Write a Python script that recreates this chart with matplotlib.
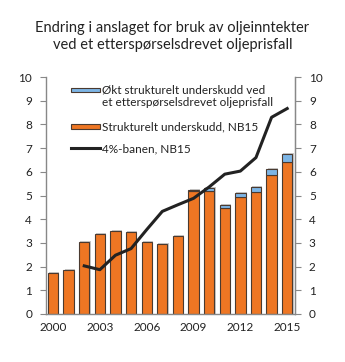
import matplotlib.pyplot as plt
from matplotlib.patches import Rectangle
from matplotlib.lines import Line2D

years = list(range(2000, 2016))
strukturelt = [1.72, 1.84, 3.03, 3.38, 3.49, 3.46, 3.03, 2.95, 3.31,
               5.17, 5.20, 4.47, 4.95, 5.15, 5.85, 6.43]
okt = [0, 0, 0, 0, 0, 0, 0, 0, 0,
       0.05, 0.10, 0.13, 0.17, 0.21, 0.28, 0.32]
bane_years = list(range(2002, 2016))
bane = [2.03, 1.87, 2.48, 2.76, 3.56, 4.33, 4.61, 4.88, 5.36,
        5.9, 6.03, 6.6, 8.3, 8.67]
labels = ['Økt strukturelt underskudd ved\net etterspørselsdrevet oljeprisfall',
          'Strukturelt underskudd, NB15',
          '4%-banen, NB15']

plt.rcParams['font.family'] = ['Lato', 'DejaVu Sans']

orange = '#EE7623'
blue = '#7DB5E5'
edge = '#4a3a30'
dark = '#222222'

W, H = 345, 362
fig = plt.figure(figsize=(W / 100, H / 100), dpi=100)
ax = fig.add_axes([46 / W, 1 - 314 / H, 249 / W, 237 / H])

w = 0.66
# light grey shadow behind the bars
tot = [s + o for s, o in zip(strukturelt, okt)]
ax.bar([y + 0.08 for y in years], [t + 0.04 for t in tot], width=w,
       color='#c8c8c8', linewidth=0, zorder=1)
ax.bar(years, strukturelt, width=w, color=orange, edgecolor=edge,
       linewidth=0.8, zorder=2)
yrs_b = [y for y, o in zip(years, okt) if o > 0]
ob = [o for o in okt if o > 0]
sb = [s for s, o in zip(strukturelt, okt) if o > 0]
ax.bar(yrs_b, ob, bottom=sb, width=w, color=blue, edgecolor=edge,
       linewidth=0.8, zorder=2)
ax.plot(bane_years, bane, color=dark, linewidth=2.2, zorder=3)

ax.set_xlim(1999.55, 2015.5)
ax.set_ylim(0, 10)
ax.set_yticks(range(0, 11))
ax.set_xticks(range(2000, 2016, 3))
ax.tick_params(axis='x', length=0, labelsize=8.5, pad=6, colors=dark)
ax.tick_params(axis='y', length=4, labelsize=8.5, color='#888888',
               labelcolor=dark, pad=6)
ax.spines['top'].set_visible(False)
for s in ['left', 'right', 'bottom']:
    ax.spines[s].set_color('#888888')
    ax.spines[s].set_linewidth(1.0)

ax2 = ax.twinx()
ax2.set_ylim(0, 10)
ax2.set_yticks(range(0, 11))
ax2.tick_params(axis='y', length=4, labelsize=8.5, color='#888888',
                labelcolor=dark, pad=6)
for s in ['top', 'left', 'bottom']:
    ax2.spines[s].set_visible(False)
ax2.spines['right'].set_color('#888888')

# legend, drawn by hand (pixel positions from top-left)
def fx(px):
    return px / W

def fy(py):
    return 1 - py / H

for col, yc in [(blue, 90), (orange, 126.5)]:
    fig.add_artist(Rectangle((fx(71), fy(yc + 2.3)), 29 / W, 4.6 / H,
                             facecolor=col, edgecolor=edge, linewidth=0.8,
                             transform=fig.transFigure))
fig.add_artist(Line2D([fx(71), fx(100)], [fy(148.5), fy(148.5)],
                      color=dark, linewidth=2.2, transform=fig.transFigure))
fig.text(fx(102), fy(84), labels[0], ha='left', va='top', fontsize=8.5,
         color=dark, linespacing=1.25)
fig.text(fx(102), fy(126.5), labels[1], ha='left', va='center', fontsize=8.5,
         color=dark)
fig.text(fx(102), fy(148.5), labels[2], ha='left', va='center', fontsize=8.5,
         color=dark)

fig.text(0.5, fy(36.5), 'Endring i anslaget for bruk av oljeinntekter\nved et etterspørselsdrevet oljeprisfall',
         ha='center', va='center', fontsize=10.5, color=dark,
         linespacing=1.3)

fig.savefig('out.png', dpi=100)
